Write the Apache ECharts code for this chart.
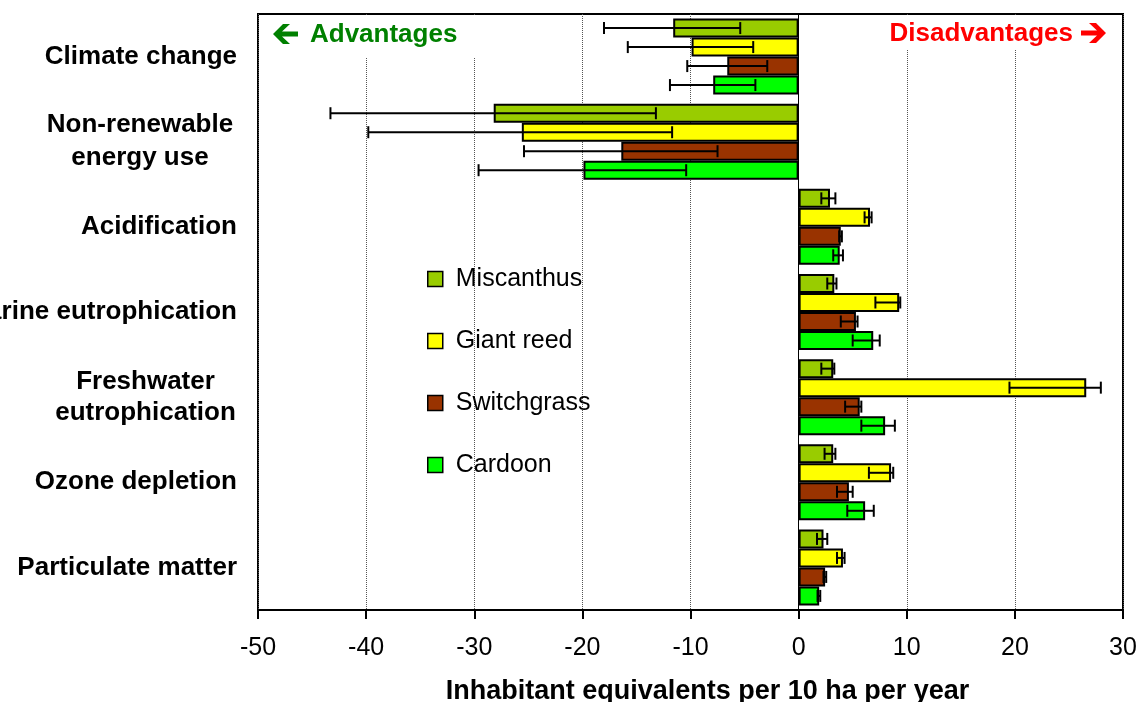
<!DOCTYPE html>
<html>
<head>
<meta charset="utf-8">
<script src="https://cdn.jsdelivr.net/npm/echarts@6.0.0/dist/echarts.min.js"></script>
<style>
html, body { margin: 0; padding: 0; background: #fff; }
#chart { width: 1139px; height: 702px; }
</style>
</head>
<body>
<div id="chart"></div>
<script>
const categories = ['Climate change', 'Non-renewable\nenergy use', 'Acidification', 'Marine eutrophication', 'Freshwater\neutrophication', 'Ozone depletion', 'Particulate matter']
const seriesNames = ['Miscanthus', 'Giant reed', 'Switchgrass', 'Cardoon']
const colors = ['#99CC00', '#FFFF00', '#993300', '#00FF00']

// bar values, top category first
const miscanthus = [-11.6, -28.2, 2.9, 3.3, 3.2, 3.2, 2.3]
const giantReed = [-9.9, -25.6, 6.6, 9.3, 26.6, 8.55, 4.1]
const switchgrass = [-6.6, -16.4, 3.9, 5.3, 5.65, 4.65, 2.45]
const cardoon = [-7.9, -19.9, 3.8, 6.9, 8.0, 6.15, 1.9]

// error bar ends (low / high)
const miscanthusLow = [-18.0, -43.3, 2.1, 2.65, 2.1, 2.4, 1.7]
const miscanthusHigh = [-5.4, -13.2, 3.4, 3.5, 3.3, 3.4, 2.65]
const giantReedLow = [-15.8, -39.8, 6.1, 7.1, 19.5, 6.5, 3.55]
const giantReedHigh = [-4.2, -11.7, 6.75, 9.4, 27.95, 8.75, 4.25]
const switchgrassLow = [-10.3, -25.4, 3.75, 3.9, 4.3, 3.55, 2.3]
const switchgrassHigh = [-2.9, -7.5, 4.0, 5.45, 5.8, 5.0, 2.55]
const cardoonLow = [-11.9, -29.6, 3.2, 5.0, 5.8, 4.5, 1.75]
const cardoonHigh = [-4.0, -10.4, 4.1, 7.5, 8.9, 6.95, 2.0]

const xTicks = { min: -50, max: 30, step: 10 }

const FONT = '"Liberation Sans", Arial, sans-serif'
const BAR_W = 19

const values = [miscanthus, giantReed, switchgrass, cardoon]
const lows = [miscanthusLow, giantReedLow, switchgrassLow, cardoonLow]
const highs = [miscanthusHigh, giantReedHigh, switchgrassHigh, cardoonHigh]

const barSeries = values.map((data, k) => {
    const s = {
        name: seriesNames[k],
        type: 'bar',
        data: data,
        barWidth: BAR_W,
        barGap: '0%',
        itemStyle: { color: colors[k], borderColor: '#000', borderWidth: 2 },
        z: 2
    }
    if (k === 0) {
        s.markLine = {
            silent: true,
            symbol: ['none', 'none'],
            label: { show: false },
            lineStyle: { color: '#000', type: 'solid', width: 1 },
            data: [{ xAxis: 0 }]
        }
    }
    return s
})

const errorSeries = lows.map((low, k) => ({
    type: 'custom',
    z: 5,
    silent: true,
    data: low.map((v, i) => [i, v, highs[k][i]]),
    encode: { x: [1, 2], y: 0 },
    renderItem(params, api) {
        const cat = api.value(0)
        const a = api.coord([api.value(1), cat])
        const b = api.coord([api.value(2), cat])
        const y = a[1] + (k - 1.5) * BAR_W
        const h = 6
        const st = { stroke: '#000', lineWidth: 2 }
        return {
            type: 'group',
            children: [
                { type: 'line', shape: { x1: a[0], y1: y, x2: b[0], y2: y }, style: st },
                { type: 'line', shape: { x1: a[0], y1: y - h, x2: a[0], y2: y + h }, style: st },
                { type: 'line', shape: { x1: b[0], y1: y - h, x2: b[0], y2: y + h }, style: st }
            ]
        }
    }
}))

let myChart = echarts.init(document.getElementById('chart'))
myChart.setOption({
    animation: false,
    backgroundColor: '#fff',
    grid: {
        left: 258, right: 16, top: 14, bottom: 92,
        show: true, borderColor: '#000', borderWidth: 2,
        outerBoundsMode: 'none'
    },
    legend: {
        data: seriesNames,
        orient: 'vertical',
        left: 422,
        top: 261,
        icon: 'rect',
        itemWidth: 15,
        itemHeight: 15,
        itemGap: 36,
        itemStyle: { borderColor: '#000', borderWidth: 1.5 },
        textStyle: { fontFamily: FONT, fontSize: 25, color: '#000', lineHeight: 26, padding: [0, 0, 0, 8] }
    },
    xAxis: {
        type: 'value',
        min: xTicks.min,
        max: xTicks.max,
        interval: xTicks.step,
        axisLine: { show: true, lineStyle: { color: '#000', width: 2 } },
        axisTick: { show: true, length: 9, lineStyle: { color: '#000', width: 2 } },
        axisLabel: { fontFamily: FONT, fontSize: 25, color: '#000', margin: 26 },
        splitLine: { show: true, lineStyle: { type: 'dotted', color: '#555', width: 1 } },
        name: 'Inhabitant equivalents per 10 ha per year',
        nameLocation: 'middle',
        nameGap: 68,
        nameTextStyle: { fontFamily: FONT, fontSize: 27, fontWeight: 'bold', color: '#000', padding: [0, 0, 0, 34] }
    },
    yAxis: {
        type: 'category',
        inverse: true,
        data: categories,
        axisLine: { show: false },
        axisTick: { show: false },
        axisLabel: {
            interval: 0,
            margin: 21,
            fontFamily: FONT,
            fontSize: 26,
            fontWeight: 'bold',
            color: '#000',
            lineHeight: 30,
            formatter(value) {
                if (value.indexOf('\n') < 0) return value
                const key = value.indexOf('Non') === 0 ? 'c' : 'd'
                return value.split('\n').map(s => '{' + key + '|' + s + '}').join('\n')
            },
            rich: {
                c: { fontFamily: FONT, fontSize: 26, fontWeight: 'bold', color: '#000', lineHeight: 33, width: 194, align: 'center' },
                d: { fontFamily: FONT, fontSize: 26, fontWeight: 'bold', color: '#000', lineHeight: 31, width: 183, align: 'center' }
            }
        }
    },
    graphic: [
        { type: 'rect', z: 50, shape: { x: 262, y: 16, width: 218, height: 42 }, style: { fill: '#fff' } },
        { type: 'rect', z: 50, shape: { x: 880, y: 16, width: 238, height: 34 }, style: { fill: '#fff' } },
        {
            type: 'polygon', z: 51,
            shape: { points: [[273, 34], [283, 24], [290, 24], [282, 31.5], [298, 31.5], [298, 36.5], [282, 36.5], [290, 44], [283, 44]] },
            style: { fill: '#008000' }
        },
        {
            type: 'text', z: 51, x: 310, y: 35,
            style: { text: 'Advantages', fill: '#008000', font: 'bold 26px ' + FONT, verticalAlign: 'middle', align: 'left' }
        },
        {
            type: 'text', z: 51, x: 1073, y: 34,
            style: { text: 'Disadvantages', fill: '#FF0000', font: 'bold 26px ' + FONT, verticalAlign: 'middle', align: 'right' }
        },
        {
            type: 'polygon', z: 51,
            shape: { points: [[1106, 33], [1096, 23], [1089, 23], [1097, 30.5], [1081, 30.5], [1081, 35.5], [1097, 35.5], [1089, 43], [1096, 43]] },
            style: { fill: '#FF0000' }
        }
    ],
    series: barSeries.concat(errorSeries)
})
</script>
</body>
</html>
